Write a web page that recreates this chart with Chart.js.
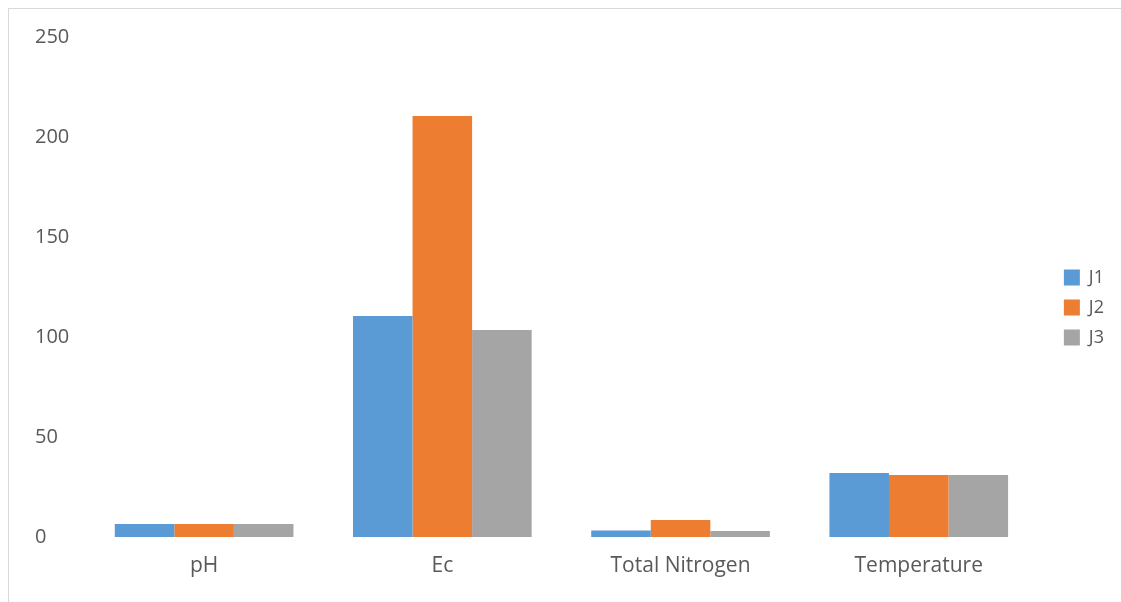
<!DOCTYPE html>
<html>
<head>
<meta charset="utf-8">
<script src="https://cdn.jsdelivr.net/npm/chart.js@4.4.1/dist/chart.umd.min.js"></script>
<style>
  html, body { margin: 0; padding: 0; background: #fff; overflow: hidden; }
  #frame { position: absolute; left: 8px; top: 8px; width: 1200px; height: 700px; border: 1px solid #d9d9d9; }
  #wrap { position: absolute; left: 0; top: 0; width: 1121px; height: 602px; }
</style>
</head>
<body>
<div id="frame"></div>
<div id="wrap"><canvas id="barChart"></canvas></div>
<script>
var categories = ['pH', 'Ec', 'Total Nitrogen', 'Temperature'];
var seriesNames = ['J1', 'J2', 'J3'];
var j1Values = [6.5, 110.5, 3.2, 32];
var j2Values = [6.5, 210.5, 8.5, 31];
var j3Values = [6.5, 103.5, 3, 31];
var yTicks = [0, 50, 100, 150, 200, 250];

var colors = ['#5B9BD5', '#ED7D31', '#A5A5A5'];
var textColor = '#595959';
var fontFamily = '"Open Sans", "Noto Sans", sans-serif';

document.addEventListener('DOMContentLoaded', function() {
    var canvas = document.getElementById('barChart');
    var values = [j1Values, j2Values, j3Values];

    new Chart(canvas, {
        type: 'bar',
        data: {
            labels: categories,
            datasets: seriesNames.map(function(name, i) {
                return {
                    label: name,
                    data: values[i],
                    backgroundColor: colors[i],
                    borderWidth: 0,
                    categoryPercentage: 0.75,
                    barPercentage: 1.0
                };
            })
        },
        options: {
            responsive: true,
            maintainAspectRatio: false,
            animation: false,
            layout: { padding: { left: 35, top: 37, right: 7, bottom: 24 } },
            plugins: {
                legend: {
                    position: 'right',
                    align: 'center',
                    labels: {
                        boxWidth: 16,
                        boxHeight: 16,
                        padding: 12,
                        color: textColor,
                        font: { family: fontFamily, size: 18 }
                    }
                },
                tooltip: { enabled: false }
            },
            scales: {
                x: {
                    grid: { display: false, drawTicks: false },
                    border: { display: false },
                    ticks: {
                        color: textColor,
                        padding: 16,
                        font: { family: fontFamily, size: 21 }
                    },
                    afterFit: function(scale) { scale.height = 41; }
                },
                y: {
                    min: 0,
                    max: 250,
                    grid: { display: false, drawTicks: false },
                    border: { display: false },
                    afterBuildTicks: function(scale) {
                        scale.ticks = yTicks.map(function(v) { return { value: v }; });
                    },
                    ticks: {
                        color: textColor,
                        crossAlign: 'far',
                        font: { family: fontFamily, size: 20 }
                    },
                    afterFit: function(scale) { scale.width = 50; }
                },
                // empty spacer between plot and legend
                gap: {
                    type: 'linear',
                    position: 'right',
                    grid: { display: false, drawTicks: false },
                    border: { display: false },
                    ticks: { display: false },
                    afterFit: function(scale) { scale.width = 14; }
                }
            }
        }
    });
});
</script>
</body>
</html>
